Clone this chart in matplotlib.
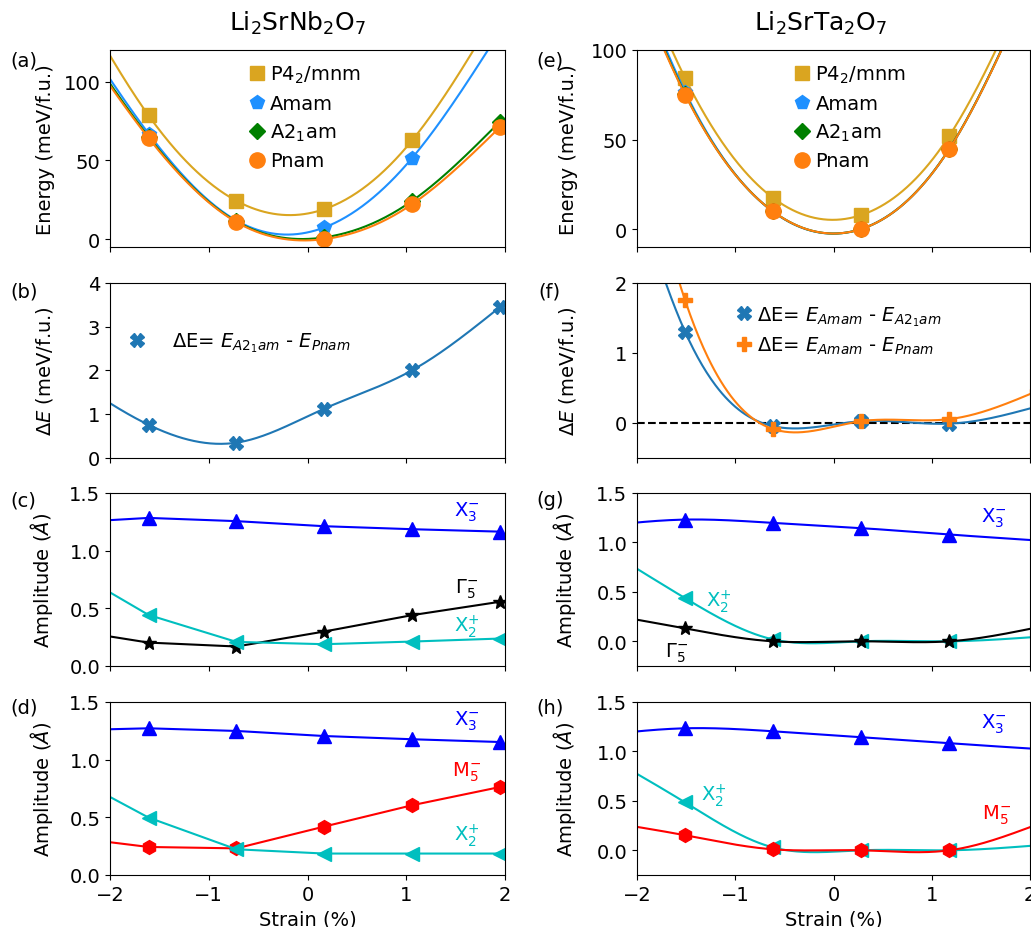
import numpy as np
import matplotlib
matplotlib.use("Agg")
import matplotlib.pyplot as plt

# strain points (first point lies outside the plotted window)
strain_nb = [-2.50, -1.61, -0.72, 0.17, 1.06, 1.95]
strain_ta = [-2.40, -1.51, -0.62, 0.28, 1.18, 2.07]

# energies (meV/f.u.)
nb_p42mnm = [172.0, 78.5, 24.3, 19.0, 62.7, 148.0]
nb_amam = [150.0, 67.0, 11.8, 7.4, 51.5, 132.0]
nb_a21am = [146.0, 65.0, 11.2, 1.1, 24.3, 74.6]
nb_pnam = [144.0, 64.2, 10.8, 0.0, 22.2, 71.1]
nb_dE = [2.0, 0.75, 0.34, 1.12, 2.00, 3.45]

ta_p42mnm = [205.0, 84.3, 17.6, 7.8, 52.2, 150.0]
ta_amam = [202.0, 76.7, 9.9, 0.02, 44.85, 144.5]
ta_a21am = [196.7, 75.4, 10.0, 0.0, 44.9, 144.3]
ta_pnam = [195.0, 75.0, 10.0, 0.0, 44.8, 144.0]
ta_dE_a21am = [5.3, 1.30, -0.05, 0.02, -0.015, 0.23]
ta_dE_pnam = [7.0, 1.75, -0.09, 0.02, 0.05, 0.45]

# mode amplitudes (Angstrom)
c_x3m = [1.240, 1.284, 1.256, 1.212, 1.186, 1.165]
c_g5m = [0.324, 0.203, 0.169, 0.299, 0.441, 0.557]
c_x2p = [0.888, 0.443, 0.209, 0.189, 0.212, 0.238]

d_x3m = [1.253, 1.272, 1.249, 1.205, 1.177, 1.153]
d_m5m = [0.337, 0.243, 0.231, 0.420, 0.605, 0.763]
d_x2p = [0.906, 0.498, 0.223, 0.186, 0.186, 0.186]

g_x3m = [1.16, 1.231, 1.198, 1.145, 1.080, 1.020]
g_x2p = [0.98, 0.436, 0.020, 0.000, 0.000, 0.045]
g_g5m = [0.29, 0.130, 0.000, 0.000, 0.000, 0.140]

h_x3m = [1.16, 1.234, 1.204, 1.143, 1.082, 1.025]
h_x2p = [1.00, 0.484, 0.030, 0.000, 0.000, 0.050]
h_m5m = [0.30, 0.152, 0.010, 0.000, 0.000, 0.260]


def spline(x, y, n=400):
    # natural cubic spline through the points
    x = np.asarray(x, float)
    y = np.asarray(y, float)
    k = len(x)
    h = np.diff(x)
    A = np.zeros((k, k))
    b = np.zeros(k)
    A[0, 0] = A[-1, -1] = 1
    for i in range(1, k - 1):
        A[i, i - 1] = h[i - 1]
        A[i, i] = 2 * (h[i - 1] + h[i])
        A[i, i + 1] = h[i]
        b[i] = 6 * ((y[i + 1] - y[i]) / h[i] - (y[i] - y[i - 1]) / h[i - 1])
    M = np.linalg.solve(A, b)
    xs = np.linspace(x[0], x[-1], n)
    j = np.clip(np.searchsorted(x, xs) - 1, 0, k - 2)
    t1 = x[j + 1] - xs
    t0 = xs - x[j]
    hj = h[j]
    ys = (M[j] * t1**3 + M[j + 1] * t0**3) / (6 * hj) \
        + (y[j] / hj - M[j] * hj / 6) * t1 + (y[j + 1] / hj - M[j + 1] * hj / 6) * t0
    return xs, ys


plt.rcParams["font.size"] = 14
fig = plt.figure(figsize=(10.31, 9.28), dpi=100)

W, H = 1031, 928
lefts = [110 / W, 637 / W]
widths = [395 / W, 393 / W]
rows = [(51, 248), (284, 458.5), (494, 667), (703, 876)]

axes = []
for col in range(2):
    colax = []
    for top, bot in rows:
        ax = fig.add_axes([lefts[col], 1 - bot / H, widths[col], (bot - top) / H])
        ax.set_xlim(-2, 2)
        ax.set_xticks([-2, -1, 0, 1, 2])
        colax.append(ax)
    axes.append(colax)

lw = 1.5

# (a) energies Nb
ax = axes[0][0]
for y, c, m, ms, lab in [(nb_p42mnm, "goldenrod", "s", 10, r"P4$_2$/mnm"),
                         (nb_amam, "dodgerblue", "p", 10, "Amam"),
                         (nb_a21am, "green", "D", 8, r"A2$_1$am"),
                         (nb_pnam, "C1", "o", 11, "Pnam")]:
    xs, ys = spline(strain_nb, y)
    ax.plot(xs, ys, color=c, lw=lw)
    ax.plot(strain_nb, y, m, color=c, ms=ms, ls="none", label=lab)
ax.set_ylim(-5, 120)
ax.set_yticks([0, 50, 100])
ax.set_ylabel("Energy (meV/f.u.)")
ax.legend(loc="upper left", bbox_to_anchor=(0.307, 1.02), frameon=False,
          handlelength=0.8, handletextpad=0.3, labelspacing=0.45)

# (e) energies Ta
ax = axes[1][0]
for y, c, m, ms, lab in [(ta_p42mnm, "goldenrod", "s", 10, r"P4$_2$/mnm"),
                         (ta_amam, "dodgerblue", "p", 10, "Amam"),
                         (ta_a21am, "green", "D", 8, r"A2$_1$am"),
                         (ta_pnam, "C1", "o", 11, "Pnam")]:
    xs, ys = spline(strain_ta, y)
    ax.plot(xs, ys, color=c, lw=lw)
    ax.plot(strain_ta, y, m, color=c, ms=ms, ls="none", label=lab)
ax.set_ylim(-10, 100)
ax.set_yticks([0, 50, 100])
ax.set_ylabel("Energy (meV/f.u.)")
ax.legend(loc="upper left", bbox_to_anchor=(0.355, 1.02), frameon=False,
          handlelength=0.8, handletextpad=0.3, labelspacing=0.45)

# (b) energy difference Nb
ax = axes[0][1]
xs, ys = spline(strain_nb, nb_dE)
ax.plot(xs, ys, color="C0", lw=lw)
ax.plot(strain_nb, nb_dE, "X", color="C0", ms=10, ls="none",
        label=r"$\Delta$E= $E_{A2_1am}$ - $E_{Pnam}$")
ax.set_ylim(0, 4)
ax.set_yticks([0, 1, 2, 3, 4])
ax.set_ylabel(r"$\Delta E$ (meV/f.u.)")
ax.legend(loc="center left", bbox_to_anchor=(-0.025, 0.66), frameon=False)

# (f) energy difference Ta
ax = axes[1][1]
ax.axhline(0, color="k", ls="--", lw=1.5)
xs, ys = spline(strain_ta, ta_dE_a21am)
ax.plot(xs, ys, color="C0", lw=lw)
ax.plot(strain_ta, ta_dE_a21am, "X", color="C0", ms=10, ls="none",
        label=r"$\Delta$E= $E_{Amam}$ - $E_{A2_1am}$")
xs, ys = spline(strain_ta, ta_dE_pnam)
ax.plot(xs, ys, color="C1", lw=lw)
ax.plot(strain_ta, ta_dE_pnam, "P", color="C1", ms=10, ls="none",
        label=r"$\Delta$E= $E_{Amam}$ - $E_{Pnam}$")
ax.set_ylim(-0.5, 2)
ax.set_yticks([0, 1, 2])
ax.set_ylabel(r"$\Delta E$ (meV/f.u.)")
ax.legend(loc="upper left", bbox_to_anchor=(0.207, 0.98), frameon=False,
          handlelength=0.8, handletextpad=0.3, labelspacing=0.35)

# (c) / (d) amplitudes Nb, straight segments
for ax, series in [(axes[0][2], [(c_x3m, "b", "^", 10), (c_g5m, "k", "*", 10), (c_x2p, "c", "<", 10)]),
                   (axes[0][3], [(d_x3m, "b", "^", 10), (d_m5m, "r", "h", 10), (d_x2p, "c", "<", 10)])]:
    for y, c, m, ms in series:
        ax.plot(strain_nb, y, color=c, marker=m, ms=ms, lw=lw)
    ax.set_ylim(0, 1.5)
    ax.set_yticks([0, 0.5, 1.0, 1.5])
    ax.set_ylabel(r"Amplitude ($\AA$)")

ax = axes[0][2]
ax.text(1.61, 1.34, r"X$_3^{-}$", color="b", ha="center", va="center")
ax.text(1.61, 0.67, r"$\Gamma_5^{-}$", color="k", ha="center", va="center")
ax.text(1.61, 0.35, r"X$_2^{+}$", color="c", ha="center", va="center")
ax = axes[0][3]
ax.text(1.61, 1.34, r"X$_3^{-}$", color="b", ha="center", va="center")
ax.text(1.61, 0.90, r"M$_5^{-}$", color="r", ha="center", va="center")
ax.text(1.61, 0.35, r"X$_2^{+}$", color="c", ha="center", va="center")

# (g) / (h) amplitudes Ta, smooth
for ax, series in [(axes[1][2], [(g_x3m, "b", "^", 10), (g_x2p, "c", "<", 10), (g_g5m, "k", "*", 10)]),
                   (axes[1][3], [(h_x3m, "b", "^", 10), (h_x2p, "c", "<", 10), (h_m5m, "r", "h", 10)])]:
    for y, c, m, ms in series:
        xs, ys = spline(strain_ta, y)
        ax.plot(xs, ys, color=c, lw=lw)
        ax.plot(strain_ta, y, m, color=c, ms=ms, ls="none")
    ax.set_ylim(-0.25, 1.5)
    ax.set_yticks([0, 0.5, 1.0, 1.5])
    ax.set_ylabel(r"Amplitude ($\AA$)")

ax = axes[1][2]
ax.text(1.63, 1.25, r"X$_3^{-}$", color="b", ha="center", va="center")
ax.text(-1.17, 0.41, r"X$_2^{+}$", color="c", ha="center", va="center")
ax.text(-1.6, -0.11, r"$\Gamma_5^{-}$", color="k", ha="center", va="center")
ax = axes[1][3]
ax.text(1.63, 1.28, r"X$_3^{-}$", color="b", ha="center", va="center")
ax.text(-1.22, 0.56, r"X$_2^{+}$", color="c", ha="center", va="center")
ax.text(1.66, 0.365, r"M$_5^{-}$", color="r", ha="center", va="center")

for col in range(2):
    for r in range(3):
        axes[col][r].set_xticklabels([])
    axes[col][3].set_xlabel("Strain (%)")
    for ax in axes[col]:
        ax.yaxis.set_label_coords(-0.14 if col == 0 else -0.15, 0.5)

# panel letters
for lab, x, y in [("(a)", 10, 61), ("(b)", 10, 292), ("(c)", 10, 501), ("(d)", 10, 708),
                  ("(e)", 536, 61), ("(f)", 538, 292), ("(g)", 536, 501), ("(h)", 536, 708)]:
    fig.text(x / W, 1 - y / H, lab, ha="left", va="center")

fig.text(298 / W, 1 - 23 / H, r"Li$_2$SrNb$_2$O$_7$", ha="center", va="center", fontsize=18)
fig.text(821 / W, 1 - 23 / H, r"Li$_2$SrTa$_2$O$_7$", ha="center", va="center", fontsize=18)

fig.savefig("out.png", dpi=100)
